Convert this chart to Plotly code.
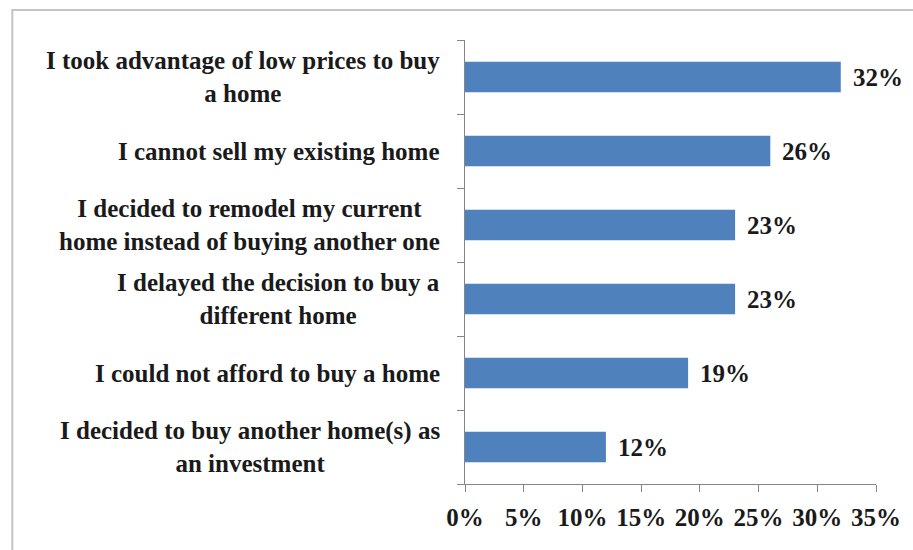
import plotly.graph_objects as go

# survey answers, top to bottom as in the chart
reasons = [
    "I took advantage of low prices to buy<br>a home",
    "I cannot sell my existing home",
    "I decided to remodel my current<br>home instead of buying another one",
    "I delayed the decision to buy a<br>different home",
    "I could not afford to buy a home",
    "I decided to buy another home(s) as<br>an investment",
]
shares = [32, 26, 23, 23, 19, 12]
x_ticks = [0, 5, 10, 15, 20, 25, 30, 35]

BAR_COLOR = "#4F81BD"
FONT = "Liberation Serif"
TEXT_COLOR = "#1a1a1a"
FS = 25

W, H = 913, 550
L, R, T, B = 465, 34, 40, 66
plot_w = W - L - R
plot_h = H - T - B

fig = go.Figure()

fig.add_bar(
    x=shares,
    y=list(range(len(reasons))),
    orientation="h",
    marker=dict(color=BAR_COLOR, line=dict(width=0)),
    width=0.41,
    hoverinfo="skip",
)

# value labels next to bars
for i, v in enumerate(shares):
    fig.add_annotation(
        x=v, y=i, xref="x", yref="y",
        text=f"<b>{v}%</b>",
        showarrow=False, xanchor="left", xshift=10,
        font=dict(family=FONT, size=FS, color=TEXT_COLOR),
    )

# category labels (centred multi-line, right edge near axis)
for i, r in enumerate(reasons):
    fig.add_annotation(
        x=-23 / plot_w, y=i, xref="paper", yref="y",
        text=f"<b>{r}</b>",
        showarrow=False, xanchor="right", align="center",
        font=dict(family=FONT, size=FS, color=TEXT_COLOR),
    )

# outer frame (top and left edges visible)
fig.add_shape(
    type="rect", xref="paper", yref="paper",
    x0=(9 - L) / plot_w, x1=(W + 5 - L) / plot_w,
    y0=-(H + 5 - T - plot_h) / plot_h, y1=(T + plot_h - 10) / plot_h,
    line=dict(color="#c4c4c4", width=2), layer="below",
)

fig.update_xaxes(
    range=[0, 35],
    tickvals=x_ticks,
    ticktext=[f"<b>{t}%</b>" for t in x_ticks],
    ticks="outside", ticklen=7, tickcolor="#868686",
    ticklabelstandoff=4,
    showline=True, linecolor="#868686", linewidth=1,
    showgrid=False, zeroline=False,
    tickfont=dict(family=FONT, size=FS, color=TEXT_COLOR),
)
fig.update_yaxes(
    range=[len(reasons) - 0.5, -0.5],
    tickvals=[i + 0.5 for i in range(-1, len(reasons))],
    ticktext=[""] * (len(reasons) + 1),
    ticks="outside", ticklen=7, tickcolor="#868686",
    showline=True, linecolor="#868686", linewidth=1,
    showgrid=False, zeroline=False,
)

fig.update_layout(
    width=W, height=H,
    margin=dict(l=L, r=R, t=T, b=B),
    plot_bgcolor="white", paper_bgcolor="white",
    showlegend=False,
)

# drop the default page margin so the figure sits at the window origin
fig.write_html(
    "out.html",
    config={"displayModeBar": False},
    post_script="document.body.style.margin='0';",
)
